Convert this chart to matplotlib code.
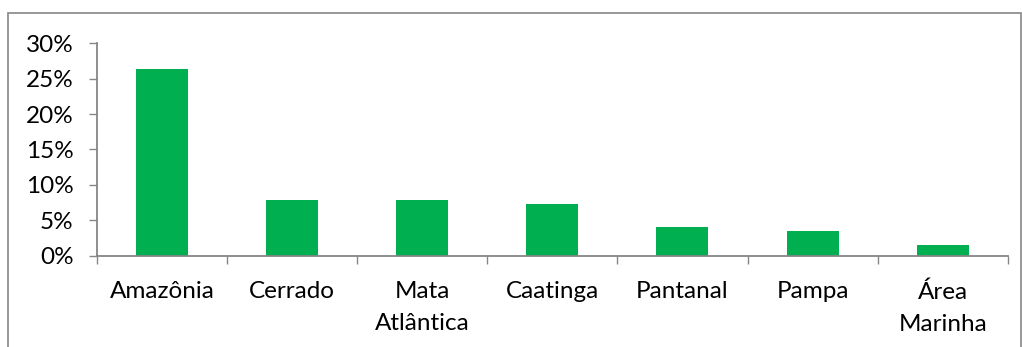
import matplotlib.pyplot as plt
import matplotlib.patches as patches
import numpy as np
from matplotlib.ticker import FuncFormatter

# biome shares
biomes = ['Amazônia', 'Cerrado', 'Mata\nAtlântica', 'Caatinga', 'Pantanal', 'Pampa', 'Área\nMarinha']
shares = [26.3, 7.9, 7.8, 7.3, 4.0, 3.5, 1.5]

GREEN = '#00B050'
GRAY = '#868686'

plt.rcParams['font.family'] = ['Lato', 'DejaVu Sans']

fig = plt.figure(figsize=(10.22, 3.47), dpi=100)
ax = fig.add_axes([97 / 1022, 1 - 255.5 / 347, (1007.7 - 97) / 1022, (255.5 - 43.3) / 347])

x = np.arange(len(biomes))
ax.bar(x, shares, width=0.4, color=GREEN, zorder=2)

ax.set_xlim(-0.5, len(biomes) - 0.5)
ax.set_ylim(0, 30)
ax.set_yticks(np.arange(0, 31, 5))
ax.yaxis.set_major_formatter(FuncFormatter(lambda v, p: f'{v:.0f}%'))

# boundary ticks as majors, category labels as minors
ax.set_xticks(np.arange(-0.5, len(biomes), 1.0))
ax.set_xticklabels([])
ax.set_xticks(x, minor=True)
ax.set_xticklabels(biomes, minor=True, linespacing=1.65)

ax.tick_params(axis='x', which='major', direction='out', length=5.4, width=1.0, color=GRAY)
ax.tick_params(axis='x', which='minor', length=0, pad=18.5, labelsize=17.5)
ax.tick_params(axis='y', direction='out', length=5.8, width=1.0, color=GRAY, pad=11, labelsize=17.5)

for s in ['top', 'right']:
    ax.spines[s].set_visible(False)
for s in ['left', 'bottom']:
    ax.spines[s].set_color(GRAY)
    ax.spines[s].set_linewidth(1.3)

# outer chart border
border = patches.Rectangle((8 / 1022, -0.02), (1021 - 8) / 1022, 1.02 - 12.5 / 347,
                           transform=fig.transFigure, fill=False, edgecolor=GRAY, linewidth=1.2)
fig.patches.append(border)

fig.savefig('out.png', dpi=100)
